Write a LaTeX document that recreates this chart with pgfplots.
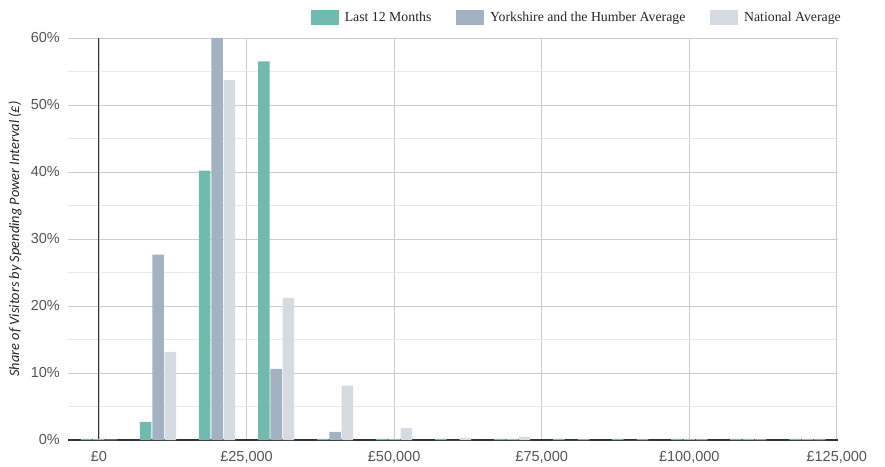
\documentclass[border=0pt]{standalone}
\usepackage{pgfplots}
\pgfplotsset{compat=1.18}
\usepackage{pgfplotstable}
\usepackage{fontspec}
\setmainfont{Liberation Sans}
\newfontfamily\legendfont{Liberation Serif}
\newfontfamily\labelfont{Carlito}
\definecolor{cA}{RGB}{112,187,173}
\definecolor{cB}{RGB}{163,178,194}
\definecolor{cC}{RGB}{214,219,225}

\pgfplotstableread{
x a b c
0 0.15 0.15 0.05
10000 2.7 27.65 13.15
20000 40.2 60.0 53.7
30000 56.5 10.6 21.2
40000 0.15 1.2 8.1
50000 0.15 0.15 1.8
60000 0.15 0.0 0.3
70000 0.15 0.15 0.45
80000 0.15 0.0 0.1
90000 0.15 0.0 0.1
100000 0.15 0.15 0.1
110000 0.15 0.15 0.1
120000 0.15 0.15 0.1
}\datatable

\pgfplotsset{
  mybar/.style={ybar, bar width=1950, draw=none,
    legend image code/.code={\fill[##1] (0pt,-7.5pt) rectangle (28pt,7.5pt);}},
}

\begin{document}
\begin{tikzpicture}
\useasboundingbox (-68pt,-26pt) rectangle (817pt,440pt);
\begin{axis}[
  scale only axis, width=770pt, height=402pt,
  at={(0,0)}, anchor=south west,
  xmin=-5250, xmax=125200, ymin=0, ymax=60,
  axis lines*=left,
  x axis line style={draw=black!80, line width=1.2pt},
  y axis line style={draw=none},
  major tick length=0pt, minor tick length=0pt,
  xtick={0,25000,50000,75000,100000,125000},
  xticklabels={£0,{£25,000},{£50,000},{£75,000},{£100,000},{£125,000}},
  ytick={0,10,...,60},
  yticklabels={0\%,10\%,20\%,30\%,40\%,50\%,60\%},
  minor ytick={5,15,...,55},
  xmajorgrids, ymajorgrids, yminorgrids,
  major grid style={draw=black!20, line width=0.9pt},
  minor grid style={draw=black!9, line width=0.9pt},
  tick label style={font=\fontsize{14.5}{16}\selectfont, text=black!67},
  xticklabel style={anchor=base, inner sep=0pt, yshift=-21pt},
  yticklabel style={anchor=east, inner sep=0pt, xshift=-8pt},
  extra x ticks={0}, extra x tick labels={},
  extra x tick style={major grid style={draw=black!80, line width=1pt}},
  ylabel={Share of Visitors by Spending Power Interval (£)},
  every axis y label/.style={at={(rel axis cs:0,0.5)}, xshift=-53pt, rotate=90, anchor=center},
  ylabel style={font=\labelfont\itshape\fontsize{14.4}{16}\selectfont, text=black!85},
  legend columns=3,
  legend style={at={(rel axis cs:1,1)}, anchor=east, xshift=3pt, yshift=20.5pt,
    draw=none, fill=none, inner sep=0pt,
    font=\legendfont\fontsize{13.8}{15}\selectfont, text=black!85,
    nodes={inner sep=0pt},
    /tikz/every odd column/.append style={column sep=6pt},
    /tikz/every even column/.append style={column sep=24.7pt}},
]
\addplot[mybar, bar shift=-2085, fill=cA] table[x=x,y=a]{\datatable};
\addlegendentry{Last 12 Months}
\addplot[mybar, bar shift=0, fill=cB] table[x=x,y=b]{\datatable};
\addlegendentry{Yorkshire and the Humber Average}
\addplot[mybar, bar shift=2085, fill=cC] table[x=x,y=c]{\datatable};
\addlegendentry{National Average}
\end{axis}
\end{tikzpicture}
\end{document}
